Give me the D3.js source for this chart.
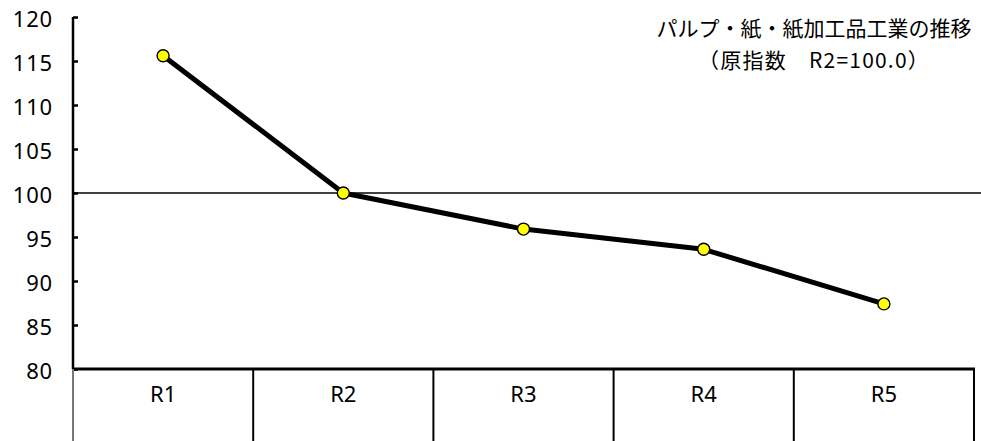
<!DOCTYPE html>
<html>
<head>
<meta charset="utf-8">
<script src="https://cdn.jsdelivr.net/npm/d3@7"></script>
<style>
  body { margin: 0; background: #fff; }
  svg { display: block; }
</style>
</head>
<body>
<div id="chart"></div>
<script>
// data
var categories = ["R1", "R2", "R3", "R4", "R5"];
var values = [115.6, 100.0, 95.9, 93.6, 87.4];
var yTicks = [80, 85, 90, 95, 100, 105, 110, 115, 120];
var titleLines = ["パルプ・紙・紙加工品工業の推移", "（原指数　R2=100.0）"];
var baseValue = 100;

(function (d3) {
    'use strict';

    var width = 981, height = 441;
    // plot box (note: "top" is taken by window, so prefix these)
    var plotLeft = 73, plotRight = 974, plotTop = 17, plotBottom = 369;

    var svg = d3.select('#chart')
        .append('svg')
        .attr('width', width)
        .attr('height', height);

    var x = d3.scaleBand()
        .domain(categories)
        .range([plotLeft, plotRight])
        .padding(0);

    var y = d3.scaleLinear()
        .domain([80, 120])
        .range([plotBottom, plotTop]);

    // 100 reference line, runs to the right edge
    svg.append('line')
        .attr('x1', plotLeft).attr('x2', width)
        .attr('y1', y(baseValue)).attr('y2', y(baseValue))
        .attr('stroke', '#000')
        .attr('stroke-width', 1.5);

    // y axis, ticks point inward
    var yAxis = svg.append('g')
        .attr('transform', 'translate(' + plotLeft + ',0)')
        .call(d3.axisRight(y).tickValues(yTicks).tickSize(5).tickFormat(''));
    yAxis.select('.domain').attr('stroke', '#000').attr('stroke-width', 2.5)
        .attr('d', 'M0,' + plotTop + 'V' + plotBottom);
    yAxis.selectAll('.tick line').attr('stroke', '#000').attr('stroke-width', 2.5);

    svg.selectAll('.ylab')
        .data(yTicks)
        .enter()
        .append('text')
        .attr('class', 'ylab')
        .attr('x', 53)
        .attr('y', function (d) { return y(d) + 10; })
        .attr('text-anchor', 'end')
        .style('font-family', '"Noto Sans", "Open Sans", sans-serif')
        .style('font-size', '22px')
        .style('letter-spacing', '0.8px')
        .text(function (d) { return d; });

    // category table under the plot
    svg.append('line')
        .attr('x1', plotLeft).attr('x2', plotRight + 1)
        .attr('y1', plotBottom).attr('y2', plotBottom)
        .attr('stroke', '#000')
        .attr('stroke-width', 3);

    var bounds = categories.map(function (c) { return x(c); }).concat([plotRight]);
    svg.selectAll('.sep')
        .data(bounds)
        .enter()
        .append('line')
        .attr('class', 'sep')
        .attr('x1', function (d) { return d; })
        .attr('x2', function (d) { return d; })
        .attr('y1', plotBottom)
        .attr('y2', height)
        .attr('stroke', function (d, i) { return i == 0 ? '#777' : '#000'; })
        .attr('stroke-width', 2);

    svg.selectAll('.xlab')
        .data(categories)
        .enter()
        .append('text')
        .attr('class', 'xlab')
        .attr('x', function (d) { return x(d) + x.bandwidth() / 2; })
        .attr('y', 402)
        .attr('text-anchor', 'middle')
        .style('font-family', '"Noto Sans", "Open Sans", sans-serif')
        .style('font-size', '22px')
        .text(function (d) { return d; });

    // series
    var points = categories.map(function (c, i) { return { cat: c, val: values[i] }; });

    var line = d3.line()
        .x(function (d) { return x(d.cat) + x.bandwidth() / 2; })
        .y(function (d) { return y(d.val); });

    svg.append('path')
        .datum(points)
        .attr('d', line)
        .attr('fill', 'none')
        .attr('stroke', '#000')
        .attr('stroke-width', 5)
        .attr('stroke-linejoin', 'round');

    svg.selectAll('.dot')
        .data(points)
        .enter()
        .append('circle')
        .attr('class', 'dot')
        .attr('cx', function (d) { return x(d.cat) + x.bandwidth() / 2; })
        .attr('cy', function (d) { return y(d.val); })
        .attr('r', 6)
        .attr('fill', '#ffff00')
        .attr('stroke', '#000')
        .attr('stroke-width', 1.4);

    // title, top right
    svg.selectAll('.title')
        .data(titleLines)
        .enter()
        .append('text')
        .attr('class', 'title')
        .attr('x', 814)
        .attr('y', function (d, i) { return 36 + i * 32; })
        .attr('text-anchor', 'middle')
        .style('font-family', '"Noto Sans CJK JP", sans-serif')
        .style('font-size', '21px')
        .style('letter-spacing', function (d, i) { return i == 1 ? '1.2px' : '0px'; })
        .text(function (d) { return d; });
})(window.d3);
</script>
</body>
</html>
